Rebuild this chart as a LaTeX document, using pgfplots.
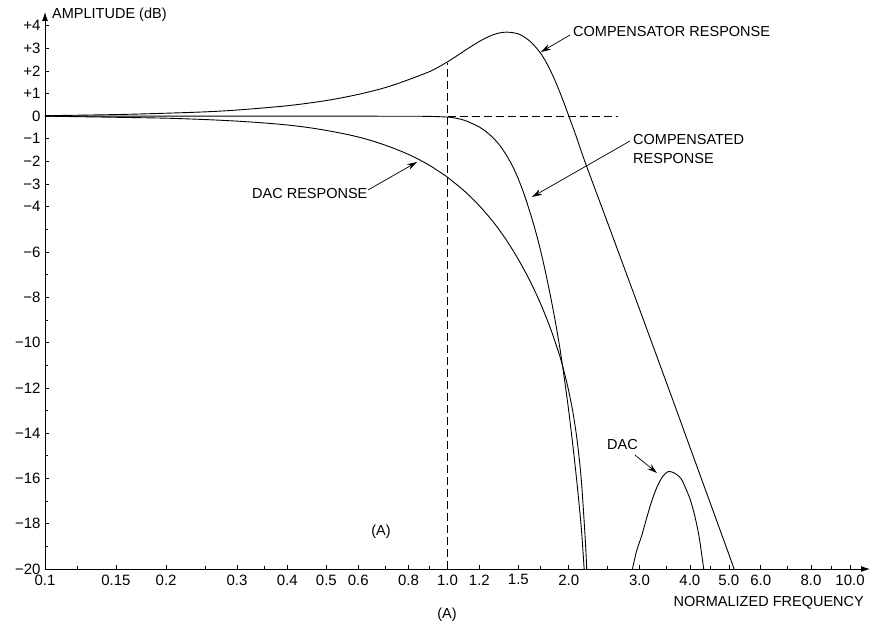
\documentclass[border=0pt]{standalone}
\usepackage{fontspec}
\setmainfont{Liberation Sans}
\usepackage{pgfplots}
\pgfplotsset{compat=1.18}
\usetikzlibrary{arrows.meta}
\begin{document}
\begin{tikzpicture}[font=\fontsize{14.5}{16}\selectfont]
\useasboundingbox (-45pt,-64pt) rectangle (832pt,569pt);
\begin{axis}[
  at={(0pt,0pt)}, anchor=south west,
  scale only axis, width=825pt, height=557pt,
  xmode=log, xmin=0.1, xmax=11.21, ymin=-20, ymax=4.6,
  axis x line=bottom, axis y line=left,
  axis line style={line width=0.9pt, -{Latex[length=9pt,width=6pt]}},
  xtick={0.1,0.15,0.2,0.3,0.4,0.5,0.6,0.8,1,1.2,1.5,2,3,4,5,6,8,10},
  xticklabels={0.1,0.15,0.2,0.3,0.4,0.5,0.6,0.8,1.0,1.2,1.5,2.0,3.0,4.0,5.0,6.0,8.0,10.0},
  minor xtick={0.12,0.25,0.35,0.7,0.9,1.7,2.5,3.5,4.5,7,9},
  ytick={4,3,2,1,0,-1,-2,-3,-4,-6,-8,-10,-12,-14,-16,-18,-20},
  yticklabels={+4,+3,+2,+1,0,−1,−2,−3,−4,−6,−8,−10,−12,−14,−16,−18,−20},
  minor ytick={-5,-7,-9,-11,-13,-15,-17,-19},
  tick align=inside, major tick length=4pt, minor tick length=3pt,
  tick style={line width=0.6pt, black},
  tick label style={font=\fontsize{15}{16}\selectfont},
  xticklabel style={yshift=-2pt},
  yticklabel style={xshift=-1pt},
]
% compensator response
\addplot[black, line width=0.9pt, smooth, tension=0.5] coordinates {
(0.1,0.02) (0.15,0.07) (0.2,0.13) (0.25,0.19) (0.3,0.27) (0.4,0.46) (0.5,0.69)
(0.6,0.96) (0.7,1.26) (0.8,1.61) (0.9,1.96) (0.95,2.17) (1.0,2.4) (1.05,2.64)
(1.1,2.88) (1.15,3.1) (1.2,3.3) (1.25,3.47) (1.3,3.6) (1.35,3.68) (1.4,3.71)
(1.45,3.69) (1.5,3.63) (1.55,3.5) (1.6,3.32) (1.65,3.08) (1.7,2.8) (1.75,2.45)
(1.8,2.03) (1.85,1.57) (1.9,1.07) (1.95,0.55) (2.0,0.02) (2.05,-0.5) (2.1,-1.02)
(2.2,-2.06) (2.5,-4.72) (2.8,-7.09) (3.0,-8.53) (3.31,-10.6) (3.6,-12.37)
(4.0,-14.61) (4.5,-17.11) (5.0,-19.35) (5.15,-20)
};
% DAC response (main lobe)
\addplot[black, line width=0.9pt, smooth, tension=0.5] coordinates {
(0.1,0) (0.15,-0.05) (0.2,-0.09) (0.25,-0.15) (0.3,-0.22) (0.35,-0.3) (0.4,-0.39)
(0.45,-0.5) (0.5,-0.63) (0.55,-0.77) (0.6,-0.92) (0.65,-1.09) (0.7,-1.28) (0.75,-1.48)
(0.8,-1.69) (0.85,-1.92) (0.9,-2.16) (0.95,-2.43) (1.0,-2.7) (1.1,-3.3) (1.2,-3.96)
(1.3,-4.68) (1.4,-5.47) (1.5,-6.33) (1.6,-7.25) (1.7,-8.25) (1.8,-9.35) (1.9,-10.58)
(1.95,-11.31) (2.0,-12.13) (2.05,-13.1) (2.1,-14.35) (2.15,-16.08) (2.2,-18.75)
(2.217,-20)
};
% DAC response (side lobe)
\addplot[black, line width=0.9pt, smooth, tension=0.5] coordinates {
(2.88,-20) (2.95,-19.2) (3.04,-18.5) (3.13,-17.7) (3.23,-16.9) (3.33,-16.3) (3.43,-15.9)
(3.53,-15.7) (3.65,-15.75) (3.8,-16.0) (3.92,-16.5) (4.02,-17.0) (4.12,-17.7)
(4.22,-18.6) (4.33,-20)
};
% compensated response
\addplot[black, line width=0.9pt, smooth, tension=0.5] coordinates {
(0.1,0) (0.5,0) (0.8,-0.005) (0.9,-0.01) (1.0,-0.04) (1.05,-0.09) (1.1,-0.18)
(1.15,-0.32) (1.2,-0.48) (1.25,-0.7) (1.3,-0.97) (1.35,-1.3) (1.4,-1.72) (1.45,-2.2)
(1.5,-2.78) (1.55,-3.45) (1.6,-4.2) (1.65,-5.0) (1.7,-5.88) (1.75,-6.85) (1.8,-7.9)
(1.85,-9.0) (1.9,-10.2) (1.95,-11.55) (2.0,-13.0) (2.05,-14.6) (2.1,-16.3)
(2.15,-18.2) (2.185,-20)
};
% dashed guides
\addplot[black, line width=0.7pt, dash pattern=on 8pt off 4pt] coordinates {(1.0,-20) (1.0,2.35)};
\addplot[black, line width=0.7pt, dash pattern=on 8pt off 4pt] coordinates {(1.0,0) (2.65,0)};
\end{axis}
% annotations (pt offsets from the axis corner)
\node[anchor=west, inner sep=0pt] at (7pt,554pt) {AMPLITUDE (dB)};
\node[anchor=east, inner sep=0pt] at (819pt,-34pt) {NORMALIZED FREQUENCY};
\node[inner sep=0pt] at (402pt,-46pt) {(A)};
\node[inner sep=0pt] at (336pt,37pt) {(A)};
\node[anchor=west, inner sep=0pt] at (528pt,537pt) {COMPENSATOR RESPONSE};
\draw[line width=0.7pt, -{Stealth[length=10pt,width=6pt]}] (525pt,534pt) -- (496pt,517pt);
\node[anchor=west, inner sep=0pt] at (588pt,429pt) {COMPENSATED};
\node[anchor=west, inner sep=0pt] at (588pt,410pt) {RESPONSE};
\draw[line width=0.7pt, -{Stealth[length=10pt,width=6pt]}] (585pt,428pt) -- (487pt,372pt);
\node[anchor=west, inner sep=0pt] at (207pt,375pt) {DAC RESPONSE};
\draw[line width=0.7pt, -{Stealth[length=10pt,width=6pt]}] (323pt,379pt) -- (372pt,407pt);
\node[anchor=west, inner sep=0pt] at (562pt,124pt) {DAC};
\draw[line width=0.7pt, -{Stealth[length=10pt,width=6pt]}] (590pt,114pt) -- (612pt,96pt);
\end{tikzpicture}
\end{document}
